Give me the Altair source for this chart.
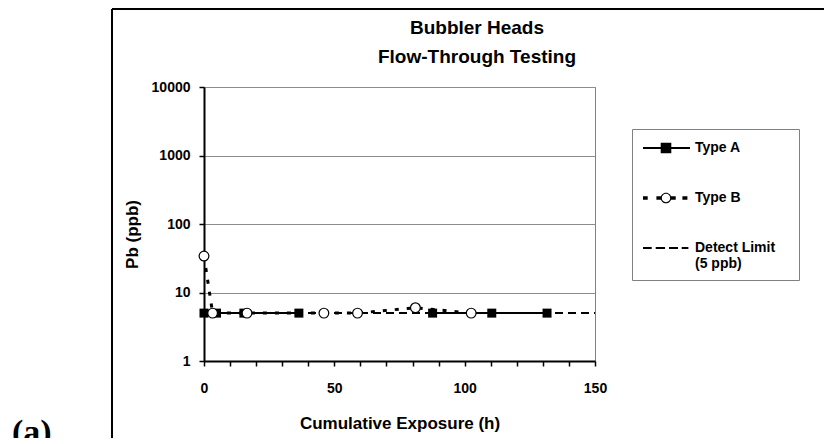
import altair as alt
import pandas as pd

# ---- data ----
typeA_x = [0, 4.8, 15.3, 36.4, 87.7, 110.4, 131.6]
typeA_y = [5, 5, 5, 5, 5, 5, 5]
typeA_seg = [1, 1, 1, 1, 2, 2, 2]          # gap in the Type A line between 36 h and 88 h
typeB_x = [0, 3.3, 16.5, 46.0, 58.9, 81.1, 102.5]
typeB_y = [34, 5, 5, 5, 5, 6, 5]
limit_x = [0, 150]
limit_y = [5, 5]

series = ["Type A", "Type B", "Detect Limit"]
title_lines = ["Bubbler Heads", "Flow-Through Testing"]
x_ticks = list(range(0, 151, 10))
y_ticks = [1, 10, 100, 1000, 10000]

FONT = "Liberation Sans, Arial, sans-serif"

rows = []
for x, y, s in zip(typeA_x, typeA_y, typeA_seg):
    rows.append({"series": "Type A", "x": x, "y": y, "seg": s})
for x, y in zip(typeB_x, typeB_y):
    rows.append({"series": "Type B", "x": x, "y": y, "seg": 1})
for x, y in zip(limit_x, limit_y):
    rows.append({"series": "Detect Limit", "x": x, "y": y, "seg": 1})
df = pd.DataFrame(rows)

# legend glyphs (custom symbol paths, unit = sqrt(size)/2 px)
pathA = ("M-2.3,-0.1H2.4V0.1H-2.3Z "
         "M-0.53,-0.53H0.53V0.53H-0.53Z")
pathB = ("M-2.3,-0.17H-1.83V0.17H-2.3Z "
         "M-0.96,-0.17H-0.5V0.17H-0.96Z "
         "M0.5,-0.17H0.97V0.17H0.5Z "
         "M1.64,-0.17H2.14V0.17H1.64Z "
         "M0.53,0A0.53,0.53 0 1,1 -0.53,0A0.53,0.53 0 1,1 0.53,0Z "
         "M0.42,0A0.42,0.42 0 1,0 -0.42,0A0.42,0.42 0 1,0 0.42,0Z")
pathL = ("M-2.3,-0.1H-1.43V0.1H-2.3Z "
         "M-1.03,-0.1H-0.1V0.1H-1.03Z "
         "M0.3,-0.1H1.2V0.1H0.3Z "
         "M1.57,-0.1H2.24V0.1H1.57Z")

x_enc = alt.X("x:Q",
              scale=alt.Scale(domain=[0, 150], nice=False),
              axis=alt.Axis(values=x_ticks, title="Cumulative Exposure (h)",
                            labelExpr="datum.value % 50 == 0 ? datum.label : ''",
                            grid=False, labelFlush=False, labelOverlap=False,
                            labelPadding=15, titleY=67, titleBaseline="alphabetic"))
y_enc = alt.Y("y:Q",
              scale=alt.Scale(type="log", domain=[1, 10000], nice=False),
              axis=alt.Axis(values=y_ticks, format="d", title="Pb (ppb)",
                            grid=True, gridColor="#8c8c8c", gridWidth=1,
                            labelPadding=9, titleX=-67, titleY=147,
                            titleAlign="center", titleBaseline="alphabetic",
                            titleAngle=270))

base = alt.Chart(df).encode(x=x_enc, y=y_enc)

limit_line = base.transform_filter(alt.datum.series == "Detect Limit").mark_line(
    color="black", strokeWidth=2, strokeDash=[8, 5])
a_line = base.transform_filter(alt.datum.series == "Type A").mark_line(
    color="black", strokeWidth=2).encode(detail="seg:N")
b_line = base.transform_filter(alt.datum.series == "Type B").mark_line(
    color="black", strokeWidth=3, strokeDash=[4, 8])
a_pts = base.transform_filter(alt.datum.series == "Type A").mark_square(
    size=81, color="black", opacity=1, filled=True)
b_pts = base.transform_filter(alt.datum.series == "Type B").mark_point(
    shape="circle", size=95, filled=True, fill="white", stroke="black",
    strokeWidth=1.2, opacity=1)

BLANK = "\u2800"   # invisible non-whitespace filler to widen the legend box a little
legend_layer = base.mark_point(filled=True, color="black", opacity=0).encode(
    shape=alt.Shape("series:N",
                    scale=alt.Scale(domain=series, range=[pathA, pathB, pathL]),
                    legend=alt.Legend(
                        orient="none", legendX=428, legendY=42, title=None,
                        padding=9, strokeColor="#808080", fillColor="white",
                        symbolSize=400, symbolStrokeWidth=0, symbolOpacity=1,
                        symbolOffset=15,
                        labelFont=FONT, labelFontSize=14, labelFontWeight="bold",
                        labelColor="black", labelOffset=19, rowPadding=33,
                        labelExpr="datum.label == 'Detect Limit' ? ['Detect Limit " + BLANK + "', '(5 ppb)'] : datum.label")))

deco = alt.Chart(pd.DataFrame({"k": [0]}))
frame_top = deco.mark_rule(color="black", strokeWidth=2).encode(
    x=alt.value(-92), x2=alt.value(640), y=alt.value(-78))
frame_left = deco.mark_rule(color="black", strokeWidth=2).encode(
    x=alt.value(-92), y=alt.value(-78), y2=alt.value(420))
title_text = deco.mark_text(text=title_lines, font=FONT, fontSize=19, fontWeight="bold",
                            align="center", baseline="alphabetic", lineHeight=29,
                            color="black").encode(x=alt.value(273), y=alt.value(-53))
panel_label = deco.mark_text(text="(a)", font="Liberation Serif", fontSize=34,
                             fontWeight="bold", align="left", baseline="alphabetic",
                             color="black").encode(x=alt.value(-192), y=alt.value(356))

chart = alt.layer(
    limit_line, a_line, b_line, a_pts, b_pts, legend_layer,
    frame_top, frame_left, title_text, panel_label
).properties(
    width=391, height=274,
    padding={"left": 196, "top": 79, "right": 229, "bottom": 77},
    autosize=alt.AutoSizeParams(type="none"),
).configure_view(
    stroke="#808080", strokeWidth=1
).configure_axis(
    labelFont=FONT, labelFontSize=14, labelFontWeight="bold", labelColor="black",
    titleFont=FONT, titleFontSize=17, titleFontWeight="bold", titleColor="black",
    domainColor="black", domainWidth=2, tickColor="black", tickWidth=1.5, tickSize=5
)

chart.save("out.html", embed_options={"renderer": "svg", "actions": False})
